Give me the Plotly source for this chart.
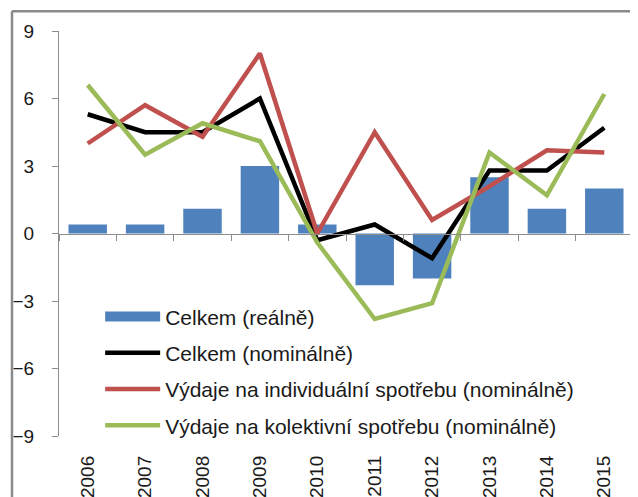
import plotly.graph_objects as go

years = ["2006", "2007", "2008", "2009", "2010", "2011", "2012", "2013", "2014", "2015"]
celkem_realne = [0.4, 0.4, 1.1, 3.0, 0.4, -2.3, -2.0, 2.5, 1.1, 2.0]
celkem_nominalne = [5.3, 4.5, 4.5, 6.0, -0.3, 0.4, -1.1, 2.8, 2.8, 4.7]
individualni = [4.0, 5.7, 4.3, 8.0, 0.0, 4.5, 0.6, 2.1, 3.7, 3.6]
kolektivni = [6.6, 3.5, 4.9, 4.1, -0.4, -3.8, -3.1, 3.6, 1.7, 6.2]

names = [
    "Celkem (reálně)",
    "Celkem (nominálně)",
    "Výdaje na individuální spotřebu (nominálně)",
    "Výdaje na kolektivní spotřebu (nominálně)",
]

FONT = "Liberation Sans, Arial, sans-serif"
AXIS_GRAY = "#8c8c8c"
FRAME_GRAY = "#8a8a8a"
BLUE = "#4f81bd"

fig = go.Figure()
fig.add_trace(go.Bar(x=years, y=celkem_realne, name=names[0], marker_color=BLUE,
                     marker_line_width=0, xaxis="x", yaxis="y", showlegend=False))
# legend entry for the bars, drawn as a wide block like the original
fig.add_trace(go.Scatter(x=[None], y=[None], name=names[0], mode="lines",
                         line=dict(color=BLUE, width=14), xaxis="x2", yaxis="y",
                         legendgroup="a"))
line_specs = [(celkem_nominalne, names[1], "#000000", "b"),
              (individualni, names[2], "#c0504d", "c"),
              (kolektivni, names[3], "#9bbb59", "d")]
for vals, nm, col, grp in line_specs:
    fig.add_trace(go.Scatter(x=years, y=vals, name=nm, mode="lines",
                             line=dict(color=col, width=4.5), xaxis="x2", yaxis="y",
                             legendgroup=grp))

fig.update_layout(
    template="none",
    width=630, height=489,
    margin=dict(l=51, r=5, t=23, b=61, autoexpand=False),
    paper_bgcolor="white", plot_bgcolor="white",
    font=dict(family=FONT, size=19, color="#1a1a1a"),
    bargap=0.33,
    showlegend=True,
    legend=dict(x=0.0717, y=0.345, xanchor="left", yanchor="top",
                bgcolor="rgba(0,0,0,0)", traceorder="grouped", tracegroupgap=6,
                itemwidth=55, font=dict(size=21, family=FONT, color="#1a1a1a")),
    xaxis=dict(type="category", categoryarray=years, range=[-0.5, 9.5], automargin=False,
               anchor="free", position=0.5, showline=True, linecolor=AXIS_GRAY, linewidth=1,
               ticks="outside", tickson="boundaries", ticklen=6, tickcolor=AXIS_GRAY,
               showticklabels=False, showgrid=False, zeroline=False),
    xaxis2=dict(type="category", categoryarray=years, range=[-0.5, 9.5], automargin=False,
                overlaying="x", anchor="y", side="bottom", showline=False, ticks="",
                tickangle=-90, showticklabels=True, ticklabelstandoff=15,
                showgrid=False, zeroline=False, tickfont=dict(size=19, color="#1a1a1a")),
    yaxis=dict(range=[-9, 9], tickvals=[-9, -6, -3, 0, 3, 6, 9], showline=True,
               automargin=False, linecolor=AXIS_GRAY, linewidth=1, ticks="outside", ticklen=6,
               tickcolor=AXIS_GRAY, showgrid=False, zeroline=False,
               ticklabelstandoff=14, tickfont=dict(size=19, color="#1a1a1a")),
    shapes=[
        dict(type="line", xref="paper", yref="paper", x0=-0.0819, x1=-0.0819, y0=-0.2, y1=1.049,
             line=dict(color=FRAME_GRAY, width=2.5), layer="above"),
        dict(type="line", xref="paper", yref="paper", x0=-0.0819, x1=1.05, y0=1.049, y1=1.049,
             line=dict(color=FRAME_GRAY, width=2.5), layer="above"),
    ],
)

fig.write_html("out.html")
